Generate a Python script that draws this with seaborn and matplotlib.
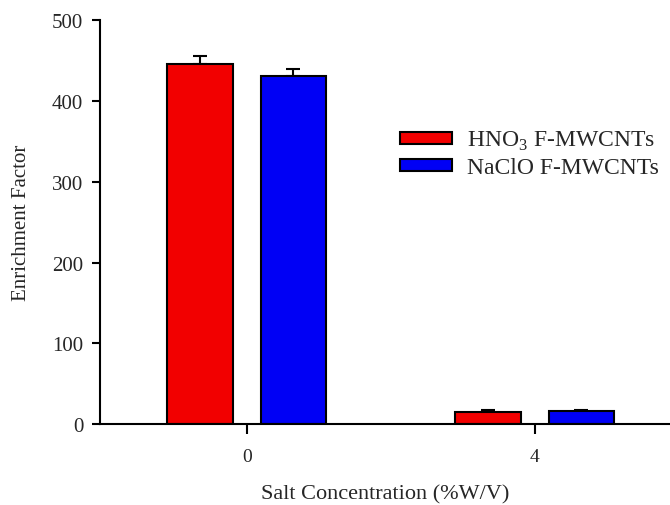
import matplotlib
matplotlib.use("Agg")
import matplotlib.pyplot as plt
import seaborn as sns
import pandas as pd
import numpy as np

categories = ["0", "4"]
series = ["HNO$_3$ F-MWCNTs", "NaClO F-MWCNTs"]
hno3_values = [445.5, 14.5]
naclo_values = [431.0, 16.0]
hno3_err = [10.3, 3.0]
naclo_err = [9.0, 1.6]
colors = ["#F20000", "#0000F5"]

sns.set_theme(style="ticks")
plt.rcParams['font.family'] = ['Liberation Serif', 'DejaVu Serif']
plt.rcParams['mathtext.fontset'] = 'custom'
plt.rcParams['mathtext.rm'] = 'Liberation Serif'

df = pd.DataFrame({
    "cat": categories * 2,
    "series": [series[0]] * 2 + [series[1]] * 2,
    "value": hno3_values + naclo_values,
    "err": hno3_err + naclo_err,
})

fig = plt.figure(figsize=(6.7, 5.06), dpi=100)
ax = fig.add_axes([0.149, 0.160, 0.851, 0.798])

sns.barplot(data=df, x="cat", y="value", hue="series", hue_order=series,
            order=categories, palette=colors, width=0.65, gap=0.3,
            errorbar=None, edgecolor="black", linewidth=1.5, saturation=1,
            ax=ax)

# error bars from bar patches
errs = hno3_err + naclo_err
bars = [p for p in ax.patches if p.get_height() > 0][:4]
for p, e in zip(bars, errs):
    xc = p.get_x() + p.get_width() / 2
    ax.errorbar(xc, p.get_height(), yerr=[[0], [e]], fmt="none",
                ecolor="black", elinewidth=1.5, capsize=4.7, capthick=1.5,
                zorder=0)

ax.set_ylim(0, 500)
ax.set_xlim(-0.51, 1.47)
ax.set_yticks([0, 100, 200, 300, 400, 500])
ax.set_xlabel("Salt Concentration (%W/V)", fontsize=16, labelpad=14)
ax.set_ylabel("Enrichment Factor", fontsize=15, labelpad=15)
ax.tick_params(axis="y", labelsize=15, direction="out", length=6, width=1.5,
               color="black", pad=6)
ax.tick_params(axis="x", labelsize=14, direction="out", length=7, width=1.5,
               color="black", pad=10)
for s in ["left", "bottom"]:
    ax.spines[s].set_linewidth(1.5)
    ax.spines[s].set_color("black")
ax.spines["top"].set_visible(False)
ax.spines["right"].set_visible(False)

leg = ax.legend(loc="upper left", bbox_to_anchor=(0.527, 0.73), frameon=False,
                fontsize=17, handlelength=2.2, handleheight=0.4,
                labelspacing=0.2, handletextpad=0.64, borderaxespad=0,
                borderpad=0)

fig.savefig("out.png", dpi=100)
